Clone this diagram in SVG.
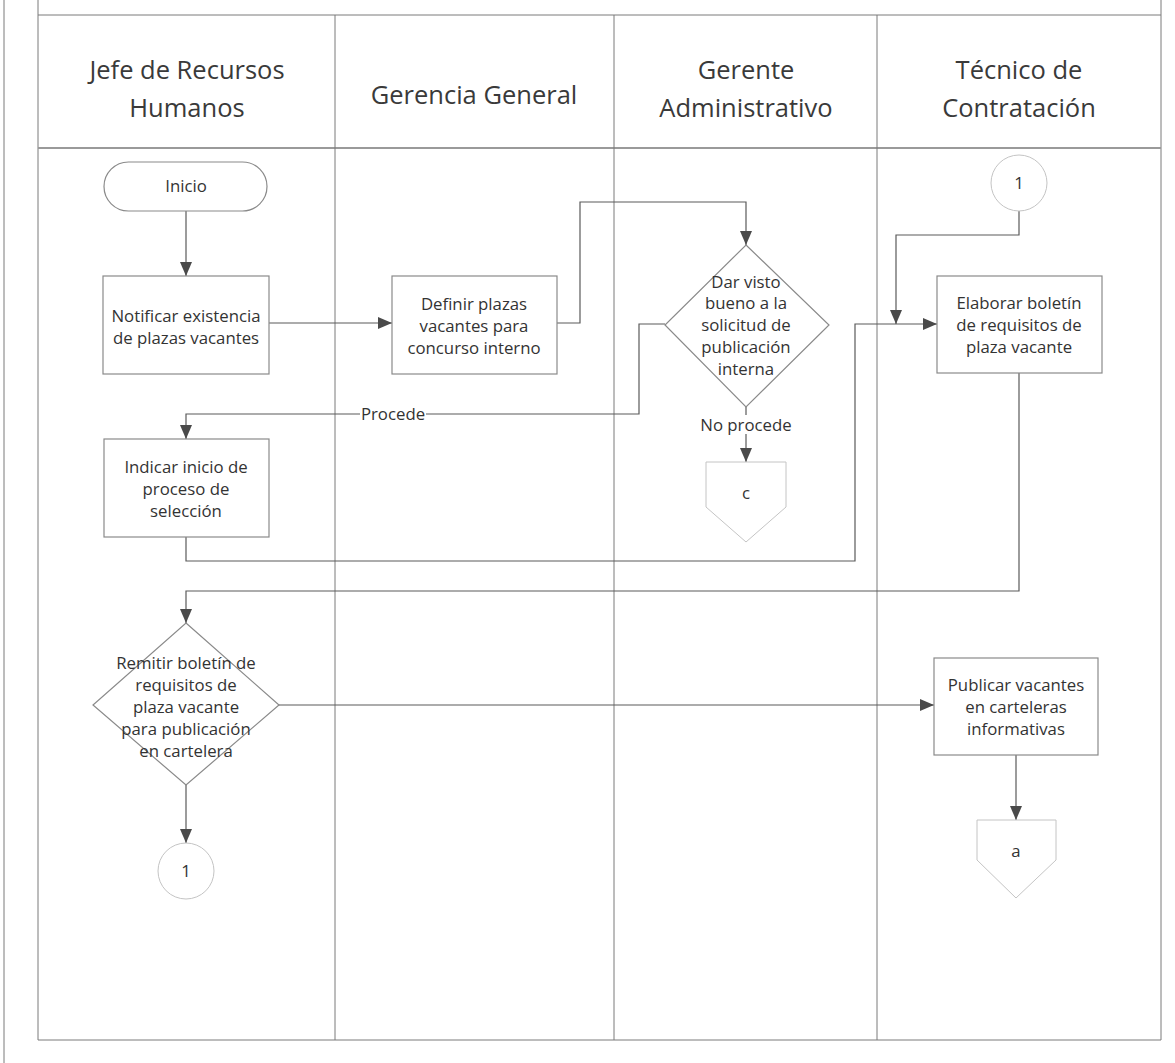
<svg xmlns="http://www.w3.org/2000/svg" width="1175" height="1063" viewBox="0 0 1175 1063">
  <defs>
    <style>
      .lane { fill: none; stroke: #7a7a7a; stroke-width: 1; }
      .hdr { font-family: "Open Sans", "Noto Sans", sans-serif; font-size: 25.5px; fill: #3a3a3a; text-anchor: middle; }
      .box { fill: #ffffff; stroke: #8a8a8a; stroke-width: 1.2; }
      .faint { fill: #ffffff; stroke: #c4c4c4; stroke-width: 1; }
      .lbl { font-family: "Open Sans", "Noto Sans", sans-serif; font-size: 16.8px; fill: #333333; text-anchor: middle; }
      .conn { fill: none; stroke: #5a5a5a; stroke-width: 1.2; }
    </style>
    <marker id="arrow" markerUnits="userSpaceOnUse" markerWidth="14" markerHeight="12" refX="14" refY="6" orient="auto">
      <path d="M0,0 L14,6 L0,12 Z" fill="#4a4a4a"/>
    </marker>
  </defs>

  <rect width="1175" height="1063" fill="#ffffff"/>

  <!-- page frame and swimlane pool -->
  <g id="pool">
    <line class="lane" x1="4" y1="0" x2="4" y2="1063"/>
    <line class="lane" x1="38" y1="0" x2="38" y2="1040"/>
    <line class="lane" x1="1161" y1="0" x2="1161" y2="1040"/>
    <line class="lane" x1="38" y1="15" x2="1161" y2="15"/>
    <line x1="38" y1="148" x2="1161" y2="148" stroke="#9a9a9a" stroke-width="2"/>
    <line class="lane" x1="38" y1="1040" x2="1161" y2="1040"/>
    <line class="lane" x1="335" y1="15" x2="335" y2="1040"/>
    <line class="lane" x1="614" y1="15" x2="614" y2="1040"/>
    <line class="lane" x1="877" y1="15" x2="877" y2="1040"/>
  </g>

  <!-- lane headers -->
  <g id="lane-headers">
    <text class="hdr" x="187" y="79">Jefe de Recursos</text>
    <text class="hdr" x="187" y="117">Humanos</text>
    <text class="hdr" x="474" y="104">Gerencia General</text>
    <text class="hdr" x="746" y="79">Gerente</text>
    <text class="hdr" x="746" y="117">Administrativo</text>
    <text class="hdr" x="1019" y="79">Técnico de</text>
    <text class="hdr" x="1019" y="117">Contratación</text>
  </g>

  <!-- connectors -->
  <g id="connectors">
    <path class="conn" d="M186,211 L186,276" marker-end="url(#arrow)"/>
    <path class="conn" d="M269,323 L392,323" marker-end="url(#arrow)"/>
    <path class="conn" d="M557,323 L580,323 L580,202 L746,202 L746,245" marker-end="url(#arrow)"/>
    <path class="conn" d="M665,324 L639,324 L639,414 L186,414 L186,439" marker-end="url(#arrow)"/>
    <path class="conn" d="M746,407 L746,415"/>
    <path class="conn" d="M746,434 L746,462" marker-end="url(#arrow)"/>
    <path class="conn" d="M186,537 L186,561 L855,561 L855,324 L937,324" marker-end="url(#arrow)"/>
    <path class="conn" d="M1019,211 L1019,235 L896,235 L896,324" marker-end="url(#arrow)"/>
    <path class="conn" d="M1019,373 L1019,591 L186,591 L186,623" marker-end="url(#arrow)"/>
    <path class="conn" d="M279,705 L934,705" marker-end="url(#arrow)"/>
    <path class="conn" d="M186,785 L186,843" marker-end="url(#arrow)"/>
    <path class="conn" d="M1016,755 L1016,820" marker-end="url(#arrow)"/>
    <rect x="360" y="403" width="66" height="21" fill="#ffffff"/>
    <text class="lbl" x="393" y="420">Procede</text>
    <text class="lbl" x="746" y="431">No procede</text>
  </g>

  <g id="inicio">
    <rect class="box" x="104" y="162" width="163" height="49" rx="24.5" ry="24.5" stroke="#a5a5a5"/>
    <text class="lbl" x="186" y="192">Inicio</text>
  </g>

  <g id="notificar">
    <rect class="box" x="103" y="276" width="166" height="98"/>
    <text class="lbl" x="186" y="322">Notificar existencia</text>
    <text class="lbl" x="186" y="344">de plazas vacantes</text>
  </g>

  <g id="definir">
    <rect class="box" x="392" y="276" width="165" height="98"/>
    <text class="lbl" x="474" y="310">Definir plazas</text>
    <text class="lbl" x="474" y="332">vacantes para</text>
    <text class="lbl" x="474" y="354">concurso interno</text>
  </g>

  <g id="dar-visto-bueno">
    <polygon class="box" points="746,245 829,325 746,407 665,325" stroke="#a0a0a0"/>
    <text class="lbl" x="746" y="288">Dar visto</text>
    <text class="lbl" x="746" y="309">bueno a la</text>
    <text class="lbl" x="746" y="331">solicitud de</text>
    <text class="lbl" x="746" y="353">publicación</text>
    <text class="lbl" x="746" y="375">interna</text>
  </g>

  <g id="indicar">
    <rect class="box" x="104" y="439" width="165" height="98"/>
    <text class="lbl" x="186" y="473">Indicar inicio de</text>
    <text class="lbl" x="186" y="495">proceso de</text>
    <text class="lbl" x="186" y="517">selección</text>
  </g>

  <g id="offpage-c">
    <polygon class="faint" points="706,462 786,462 786,507 746,542 706,507"/>
    <text class="lbl" x="746" y="499">c</text>
  </g>

  <g id="conector-1-superior">
    <circle class="faint" cx="1019" cy="183" r="28"/>
    <text class="lbl" x="1019" y="189">1</text>
  </g>

  <g id="elaborar">
    <rect class="box" x="937" y="276" width="165" height="97"/>
    <text class="lbl" x="1019" y="309">Elaborar boletín</text>
    <text class="lbl" x="1019" y="331">de requisitos de</text>
    <text class="lbl" x="1019" y="353">plaza vacante</text>
  </g>

  <g id="remitir">
    <polygon class="box" points="186,623 279,705 186,785 93,705" stroke="#a0a0a0"/>
    <text class="lbl" x="186" y="669">Remitir boletín de</text>
    <text class="lbl" x="186" y="691">requisitos de</text>
    <text class="lbl" x="186" y="713">plaza vacante</text>
    <text class="lbl" x="186" y="735">para publicación</text>
    <text class="lbl" x="186" y="757">en cartelera</text>
  </g>

  <g id="conector-1-inferior">
    <circle class="faint" cx="186" cy="871" r="28" stroke="#d0d0d0"/>
    <text class="lbl" x="186" y="877">1</text>
  </g>

  <g id="publicar">
    <rect class="box" x="934" y="658" width="164" height="97"/>
    <text class="lbl" x="1016" y="691">Publicar vacantes</text>
    <text class="lbl" x="1016" y="713">en carteleras</text>
    <text class="lbl" x="1016" y="735">informativas</text>
  </g>

  <g id="offpage-a">
    <polygon class="faint" points="977,820 1056,820 1056,860 1016,898 977,860"/>
    <text class="lbl" x="1016" y="857">a</text>
  </g>
</svg>
